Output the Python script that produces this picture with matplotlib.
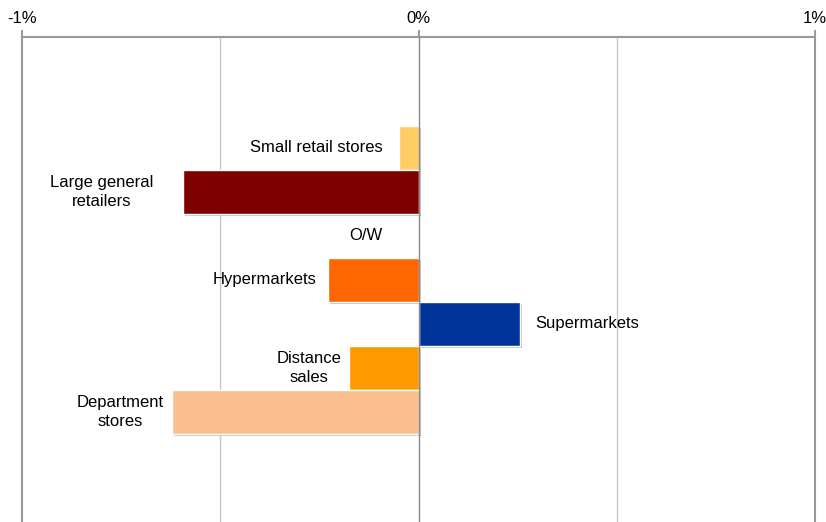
import matplotlib
matplotlib.use("Agg")
import matplotlib.pyplot as plt
import matplotlib.patheffects as pe

plt.rcParams['font.family'] = ['Liberation Sans', 'DejaVu Sans']

# data (% change)
categories = ["Small retail stores", "Large general\nretailers", "O/W",
              "Hypermarkets", "Supermarkets", "Distance\nsales",
              "Department\nstores"]
values = [-0.048, -0.594, 0.0, -0.229, 0.257, -0.176, -0.622]
colors = ["#FFCC66", "#800000", "#FFFFFF", "#FF6600", "#003399",
          "#FF9900", "#FAC090"]
tick_vals = [-1, 0, 1]
tick_labels = ["-1%", "0%", "1%"]

# label gap from bar end in points (style)
label_gaps = [12, 21, 26, 8, 11, 5, 6]
FS = 12

fig = plt.figure(figsize=(8.26, 5.22), dpi=100)
ax = fig.add_axes([22 / 826, 0.0, (815 - 22) / 826, (522 - 37) / 522])

ypos = list(range(len(categories)))
shadow = [pe.SimplePatchShadow(offset=(1.5, -1.5), shadow_rgbFace="#999999", alpha=0.6),
          pe.Normal()]
for y, v, c in zip(ypos, values, colors):
    if v == 0:
        continue
    b = ax.barh(y, v / 100, height=1.0, color=c, edgecolor="white",
                linewidth=1.0, zorder=3)
    for p in b:
        p.set_path_effects(shadow)

for y, v, lab, g in zip(ypos, values, categories, label_gaps):
    if v <= 0:
        ax.annotate(lab, xy=(v / 100, y), xytext=(-g, 0), textcoords="offset points",
                    ha="right", va="center", multialignment="center",
                    linespacing=1.3, fontsize=FS, color="#000000", zorder=5)
    else:
        ax.annotate(lab, xy=(v / 100, y), xytext=(g, 0), textcoords="offset points",
                    ha="left", va="center", fontsize=FS, color="#000000", zorder=5)

ax.set_xlim(-0.01, 0.01)
ax.set_ylim(8.5, -2.52)
ax.set_xticks([t / 100 for t in tick_vals])
ax.set_xticklabels(tick_labels, fontsize=FS)
ax.xaxis.tick_top()
ax.tick_params(axis="x", which="major", direction="out", length=5, width=1.2,
               color="#888888", pad=3)
ax.set_yticks([])

for x in [-0.005, 0.005]:
    ax.axvline(x, color="#C8C8C8", linewidth=1.0, zorder=1)
ax.axvline(0, color="#888888", linewidth=1.0, zorder=4)

for s in ["left", "right", "top"]:
    ax.spines[s].set_color("#999999")
    ax.spines[s].set_linewidth(1.5)
ax.spines["bottom"].set_visible(False)

fig.savefig("out.png", dpi=100)
